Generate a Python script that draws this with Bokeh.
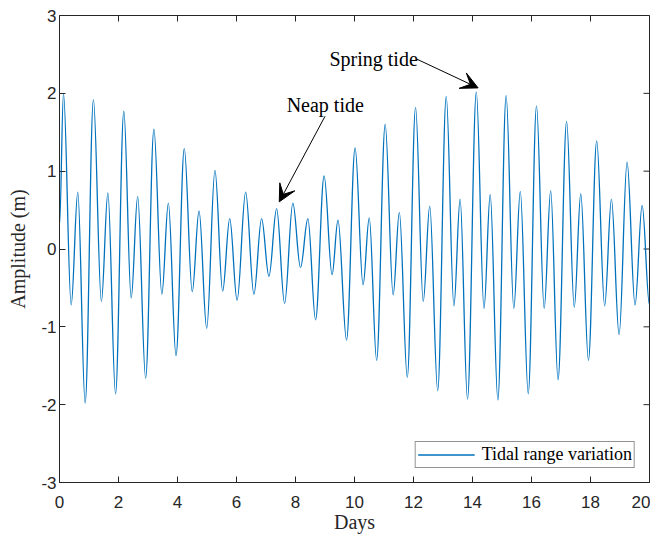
import numpy as np
from bokeh.plotting import figure
from bokeh.models import (Range1d, FixedTicker, Arrow, VeeHead, Label, Legend,
                          LegendItem, ColumnDataSource)
from bokeh.embed import file_html
from bokeh.resources import INLINE

# ---- data (extremes of the tidal signal) ----
t_days = [0.0, 0.135, 0.396, 0.62, 0.87, 1.15, 1.42, 1.64, 1.90, 2.18, 2.43,
          2.65, 2.92, 3.20, 3.47, 3.69, 3.95, 4.23, 4.50, 4.73, 4.99, 5.27,
          5.53, 5.77, 6.02, 6.31, 6.59, 6.85, 7.10, 7.36, 7.63, 7.91, 8.17,
          8.42, 8.68, 8.97, 9.24, 9.44, 9.73, 10.02, 10.29, 10.50, 10.75,
          11.04, 11.31, 11.52, 11.79, 12.07, 12.33, 12.55, 12.82, 13.11,
          13.37, 13.58, 13.83, 14.13, 14.39, 14.60, 14.86, 15.14, 15.40,
          15.62, 15.89, 16.17, 16.43, 16.65, 16.90, 17.19, 17.45, 17.67,
          17.93, 18.21, 18.48, 18.71, 18.97, 19.24, 19.51, 19.75, 20.0]
amplitude = [0.3, 2.0, -0.72, 0.73, -1.98, 1.92, -0.675, 0.72, -1.86, 1.77,
             -0.63, 0.675, -1.66, 1.54, -0.58, 0.59, -1.37, 1.29, -0.55, 0.49,
             -1.02, 1.01, -0.54, 0.39, -0.66, 0.73, -0.58, 0.39, -0.35, 0.52,
             -0.70, 0.59, -0.24, 0.39, -0.91, 0.94, -0.33, 0.37, -1.17, 1.30,
             -0.46, 0.40, -1.43, 1.60, -0.59, 0.47, -1.65, 1.82, -0.675, 0.55,
             -1.82, 1.96, -0.73, 0.64, -1.93, 2.02, -0.765, 0.70, -1.94, 1.97,
             -0.765, 0.74, -1.86, 1.84, -0.765, 0.75, -1.68, 1.64, -0.75, 0.71,
             -1.43, 1.39, -0.73, 0.64, -1.10, 1.115, -0.72, 0.56, -0.72]
x_ticks = [0, 2, 4, 6, 8, 10, 12, 14, 16, 18, 20]
y_ticks = [-3, -2, -1, 0, 1, 2, 3]
series_label = "Tidal range variation"
x_label = "Days"
y_label = "Amplitude (m)"

# annotations (text, text anchor, arrow tail, arrow tip) in data units
neap_text, neap_pos, neap_tail, neap_tip = "Neap tide", (7.70, 1.85), (9.0, 1.705), (7.45, 0.606)
spring_text, spring_pos, spring_tail, spring_tip = "Spring tide", (9.15, 2.44), (12.11, 2.44), (14.19, 2.07)

AX = "#262626"
SERIF = "Liberation Serif"
SANS = "Liberation Sans"
LINE = "#0072BD"
TENSION = 0.36  # bezier handle length (fraction of each segment's span)

X_MIN, X_MAX, Y_MIN, Y_MAX = 0, 20, -3, 3

p = figure(frame_width=590, frame_height=467, output_backend="svg",
           toolbar_location=None, x_range=Range1d(X_MIN, X_MAX),
           y_range=Range1d(Y_MIN, Y_MAX),
           min_border_left=59, min_border_right=1, min_border_top=15,
           min_border_bottom=38)
p.xgrid.visible = False
p.ygrid.visible = False
p.outline_line_color = AX
p.outline_line_width = 1
p.background_fill_color = "white"

p.xaxis.ticker = FixedTicker(ticks=x_ticks)
p.yaxis.ticker = FixedTicker(ticks=y_ticks)
p.yaxis.major_label_overrides = {v: str(v) for v in y_ticks}
for ax in (p.xaxis[0], p.yaxis[0]):
    ax.major_tick_in = 6
    ax.major_tick_out = 0
    ax.minor_tick_line_color = None
    ax.axis_line_color = AX
    ax.major_tick_line_color = AX
    ax.major_label_text_font = SANS
    ax.major_label_text_font_size = "17px"
    ax.major_label_text_color = AX
    ax.axis_label_text_font = SERIF
    ax.axis_label_text_font_style = "normal"
    ax.axis_label_text_font_size = "20px"
    ax.axis_label_text_color = AX
p.xaxis.axis_label = x_label
p.yaxis.axis_label = y_label
p.xaxis.major_label_standoff = 13
p.xaxis.axis_label_standoff = 0
p.yaxis.major_label_standoff = 3
p.yaxis.axis_label_standoff = 9

# mirrored inward ticks on the top and right edges of the box
p.ray(x=x_ticks, y=[Y_MAX] * len(x_ticks), length=6, length_units="screen",
      angle=-np.pi / 2, line_color=AX, line_width=1)
p.ray(x=[X_MAX] * len(y_ticks), y=y_ticks, length=6, length_units="screen",
      angle=np.pi, line_color=AX, line_width=1)

# smooth curve through the read extremes (horizontal tangents at each extreme)
t = np.array(t_days)
a = np.array(amplitude)
dt = np.diff(t)
src = ColumnDataSource(dict(
    x0=t[:-1], y0=a[:-1], x1=t[1:], y1=a[1:],
    cx0=t[:-1] + TENSION * dt, cy0=a[:-1],
    cx1=t[1:] - TENSION * dt, cy1=a[1:]))
r = p.bezier(x0="x0", y0="y0", x1="x1", y1="y1", cx0="cx0", cy0="cy0",
             cx1="cx1", cy1="cy1", source=src, line_color=LINE,
             line_width=1.3)

legend = Legend(items=[LegendItem(label=series_label, renderers=[r])],
                location="bottom_right", border_line_color=AX,
                border_line_width=1, background_fill_color="white",
                background_fill_alpha=1, label_text_font=SERIF,
                label_text_font_size="18px", label_text_color="black",
                glyph_width=57, glyph_height=15, label_height=15, padding=2,
                margin=14, label_standoff=7, spacing=0)
p.add_layout(legend)

for txt, pos, tail, tip in ((neap_text, neap_pos, neap_tail, neap_tip),
                            (spring_text, spring_pos, spring_tail, spring_tip)):
    p.add_layout(Arrow(end=VeeHead(size=17, fill_color="black", line_color="black"),
                       x_start=tail[0], y_start=tail[1], x_end=tip[0], y_end=tip[1],
                       line_color="black", line_width=1))
    p.add_layout(Label(x=pos[0], y=pos[1], text=txt, text_baseline="middle",
                       text_align="left", text_font=SERIF, text_font_size="20px",
                       text_color="black"))

open("out.html", "w").write(file_html(p, INLINE))
